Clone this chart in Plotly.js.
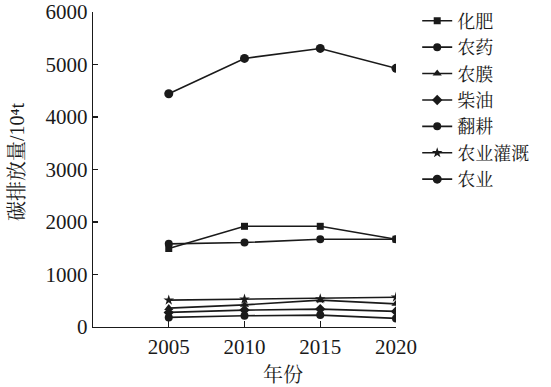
<!DOCTYPE html>
<html>
<head>
<meta charset="utf-8">
<script src="https://cdn.plot.ly/plotly-3.0.1.min.js"></script>
<style>html,body{margin:0;padding:0;background:#fff;}#chart{width:551px;height:387px;}</style>
</head>
<body>
<div id="chart"></div>
<script>
const years = [2005, 2010, 2015, 2020];
const seriesNames = ["化肥", "农药", "农膜", "柴油", "翻耕", "农业灌溉", "农业"];
const fertilizer = [1495, 1918, 1918, 1672];
const pesticide = [1584, 1609, 1672, 1672];
const film = [360, 422, 511, 441];
const diesel = [278, 322, 341, 297];
const tillage = [183, 214, 227, 164];
const irrigation = [511, 530, 536, 568];
const agriculture = [4443, 5116, 5306, 4927];
const yTicks = [0, 1000, 2000, 3000, 4000, 5000, 6000];

const seriesValues = [fertilizer, pesticide, film, diesel, tillage, irrigation, agriculture];
const symbols = ["square", "circle", "triangle-up", "diamond", "circle", "star", "circle"];
const sizes = [7, 8, 8, 8, 8, 8, 9];

const serif = "Liberation Serif, Times New Roman, Noto Serif CJK SC, Noto Sans CJK SC, serif";

const traces = seriesNames.map((n, i) => ({
  type: "scatter",
  mode: "lines+markers",
  name: n,
  x: years,
  y: seriesValues[i],
  line: {color: "#1a1a1a", width: 1.6},
  marker: {symbol: symbols[i], size: sizes[i], color: "#1a1a1a"}
}));

const layout = {
  width: 551, height: 387,
  margin: {l: 93, r: 155, t: 12, b: 60, autoexpand: false},
  paper_bgcolor: "#fff", plot_bgcolor: "#fff",
  font: {family: serif, color: "#1a1a1a", size: 21},
  showlegend: true,
  legend: {
    x: 1.07, y: 1.03, xanchor: "left", yanchor: "top",
    font: {size: 18, family: serif},
    itemwidth: 30, tracegroupgap: 0, bgcolor: "rgba(0,0,0,0)"
  },
  xaxis: {
    range: [2000, 2020],
    tickvals: years, ticktext: years.map(String),
    ticks: "inside", ticklen: 6, tickwidth: 1.2, tickcolor: "#1a1a1a",
    showline: true, linecolor: "#1a1a1a", linewidth: 1.4,
    showgrid: false, zeroline: false, automargin: false,
    ticklabeloverflow: "allow",
    tickfont: {size: 21, family: serif}
  },
  yaxis: {
    range: [0, 6000],
    tickvals: yTicks, ticktext: yTicks.map(String),
    ticks: "inside", ticklen: 5, tickwidth: 1.2, tickcolor: "#1a1a1a",
    showline: true, linecolor: "#1a1a1a", linewidth: 1.4,
    showgrid: false, zeroline: false, automargin: false,
    ticklabeloverflow: "allow",
    tickfont: {size: 21, family: serif}
  },
  annotations: [
    {text: "碳排放量/10⁴t", xref: "paper", yref: "paper", x: -0.251, y: 0.527,
     textangle: -90, showarrow: false, xanchor: "center", yanchor: "middle",
     font: {size: 20, family: serif}},
    {text: "年份", xref: "paper", yref: "paper", x: 0.627, y: -0.152,
     showarrow: false, xanchor: "center", yanchor: "middle",
     font: {size: 20, family: serif}}
  ]
};

Plotly.newPlot("chart", traces, layout, {displayModeBar: false, staticPlot: true});
</script>
</body>
</html>
